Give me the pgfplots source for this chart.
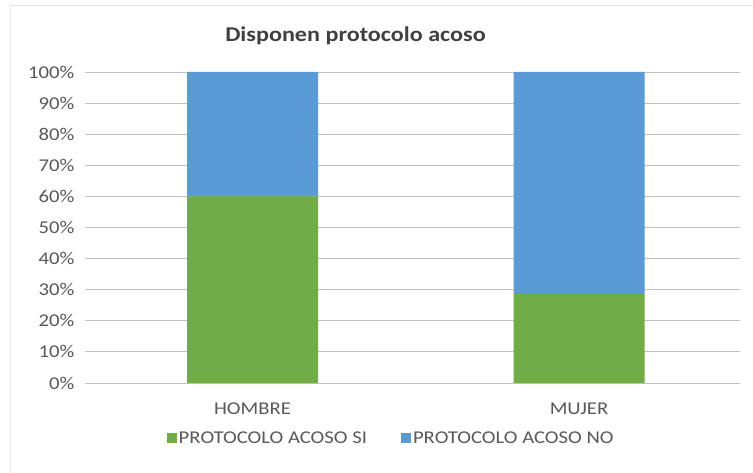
\documentclass[border=0pt]{standalone}
\usepackage{pgfplots}
\pgfplotsset{compat=1.18}
\usepackage{fontspec}
\setmainfont{Carlito}[FakeStretch=1.15]
\definecolor{xgreen}{HTML}{70AD47}
\definecolor{xblue}{HTML}{5B9BD5}
\definecolor{txt}{HTML}{595959}
\definecolor{grid}{HTML}{D9D9D9}
\begin{document}
\begin{tikzpicture}[x=1pt,y=1pt]
\useasboundingbox (0,0) rectangle (753,473);
\fill[white] (0,0) rectangle (753,473);
\draw[grid!70,line width=1pt] (10.5,0) -- (10.5,467.5) -- (753,467.5);
\begin{axis}[
  at={(85pt,90pt)}, anchor=south west,
  scale only axis, width=655pt, height=311pt,
  xmin=-0.513, xmax=1.493, ymin=0, ymax=100,
  ybar stacked, bar width=131pt,
  axis line style={draw=none},
  major tick style={draw=none},
  ymajorgrids, major grid style={grid, line width=0.9pt},
  ytick={0,10,...,100},
  yticklabel={\pgfmathprintnumber{\tick}\%},
  /pgf/number format/assume math mode=true,
  xtick={0,1}, xticklabels={HOMBRE,MUJER},
  tick label style={font=\fontsize{18}{21}\selectfont, text=txt},
  yticklabel style={xshift=-7pt},
  xticklabel style={yshift=-16pt},
  title={Disponen protocolo acoso},
  title style={at={(0.413,1.096)}, anchor=center, font=\bfseries\fontsize{21}{24}\selectfont, text=black!75},
  legend style={at={(0.4675,-0.177)}, anchor=center, draw=none, legend columns=2,
    font=\fontsize{18}{21}\selectfont, text=txt,
    /tikz/every even column/.append style={column sep=32pt}},
  legend image code/.code={\fill[#1] (-3pt,-5pt) rectangle (7pt,5pt);},
]
\addplot[fill=xgreen, draw=none] coordinates {(0,60) (1,28.6)};
\addplot[fill=xblue, draw=none] coordinates {(0,40) (1,71.4)};
\legend{PROTOCOLO ACOSO SI, PROTOCOLO ACOSO NO}
\end{axis}
\end{tikzpicture}
\end{document}
